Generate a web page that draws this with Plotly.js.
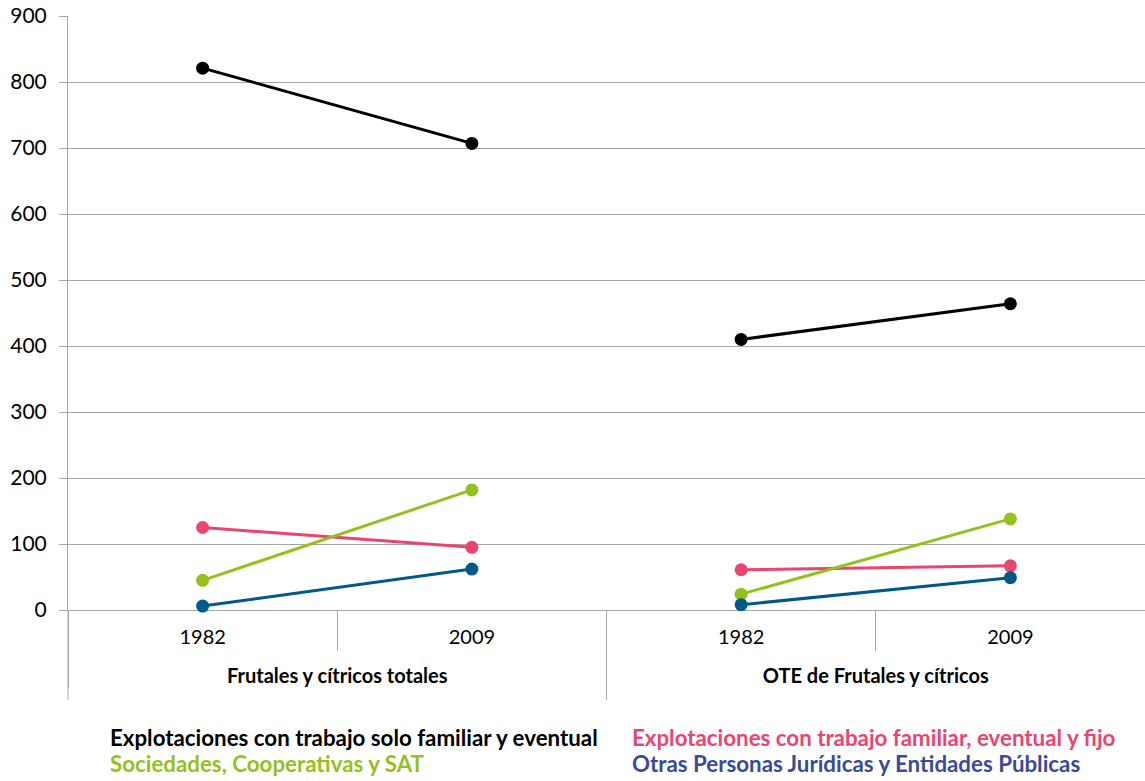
<!DOCTYPE html>
<html>
<head>
<meta charset="utf-8">
<script src="https://cdn.plot.ly/plotly-3.0.1.min.js"></script>
<style>html,body{margin:0;padding:0;background:#fff;}#chart{width:1145px;height:781px;}</style>
</head>
<body>
<div id="chart"></div>
<script>
const groups = ["Frutales y cítricos totales", "OTE de Frutales y cítricos"];
const years = ["1982", "2009"];
const seriesNames = [
  "Explotaciones con trabajo solo familiar y eventual",
  "Explotaciones con trabajo familiar, eventual y fijo",
  "Sociedades, Cooperativas y SAT",
  "Otras Personas Jurídicas y Entidades Públicas"
];
const soloFamiliar = [[821, 707], [410, 464]];
const familiarFijo = [[125, 95], [61, 67]];
const sociedades = [[45, 182], [24, 138]];
const otras = [[6, 62], [8, 49]];
const lineColors = ["#000000", "#e8456f", "#95c11f", "#005a87"];
const textColors = ["#000000", "#e8456f", "#95c11f", "#3a4a9a"];
const allSeries = [soloFamiliar, familiarFijo, sociedades, otras];

const traces = [];
allSeries.forEach((s, si) => {
  groups.forEach((g, gi) => {
    const gl = "<br><b>" + g + "</b>";
    traces.push({
      type: "scatter", mode: "lines+markers",
      x: [[gl, gl], years],
      y: s[gi],
      name: seriesNames[si],
      showlegend: false,
      line: {color: lineColors[si], width: 3},
      marker: {color: lineColors[si], size: 13},
      cliponaxis: false
    });
  });
});
const font = "Lato, 'Open Sans', sans-serif";
const ann = [
  {text: seriesNames[0], x: 108, y: 737, c: textColors[0]},
  {text: seriesNames[1], x: 630, y: 737, c: textColors[1]},
  {text: seriesNames[2], x: 108, y: 763, c: textColors[2]},
  {text: seriesNames[3], x: 630, y: 763, c: textColors[3]}
].map(a => ({
  text: "<b>" + a.text + "</b>", xref: "paper", yref: "paper",
  x: (a.x - 68) / 1077, y: -(a.y - 610) / 594,
  xanchor: "left", yanchor: "middle", showarrow: false,
  font: {family: font, size: 22.3, color: a.c}
}));

const layout = {
  width: 1145, height: 781,
  margin: {l: 68, r: 0, t: 16, b: 171},
  paper_bgcolor: "#fff", plot_bgcolor: "#fff",
  showlegend: false,
  font: {family: font, size: 20, color: "#000"},
  xaxis: {
    type: "multicategory",
    range: [-0.5, 3.5],
    showline: false, showgrid: false, zeroline: false,
    ticks: "outside", ticklen: 40, tickcolor: "#a6a6a6", tickwidth: 1,
    ticklabelstandoff: 13,
    showdividers: true, dividercolor: "#a6a6a6", dividerwidth: 1,
    tickfont: {family: font, size: 20, color: "#000"}
  },
  yaxis: {
    range: [0, 900], dtick: 100, tick0: 0,
    showgrid: true, gridcolor: "#a6a6a6", gridwidth: 1,
    zeroline: true, zerolinecolor: "#a6a6a6", zerolinewidth: 1,
    showline: true, linecolor: "#a6a6a6", linewidth: 1,
    ticks: "outside", ticklen: 8, tickcolor: "#a6a6a6",
    ticklabelstandoff: 8,
    tickfont: {family: font, size: 21, color: "#000"}
  },
  shapes: [
    {type: "line", xref: "paper", yref: "paper", x0: 0, x1: 0, y0: 0, y1: -90/594,
     line: {color: "#a6a6a6", width: 1}},
    {type: "line", xref: "paper", yref: "paper", x0: 0.5, x1: 0.5, y0: 0, y1: -90/594,
     line: {color: "#a6a6a6", width: 1}}
  ],
  annotations: ann
};
Plotly.newPlot("chart", traces, layout, {displayModeBar: false, staticPlot: true});
</script>
</body>
</html>
